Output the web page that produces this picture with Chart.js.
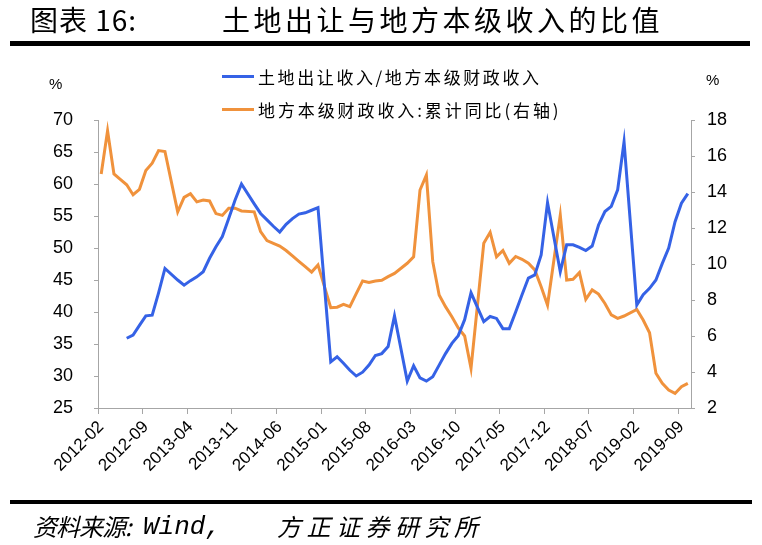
<!DOCTYPE html>
<html>
<head>
<meta charset="utf-8">
<script src="https://cdn.jsdelivr.net/npm/chart.js@4/dist/chart.umd.min.js"></script>
<style>
  html,body{margin:0;padding:0;background:#fff;}
  #wrap{position:relative;width:762px;height:545px;overflow:hidden;background:#fff;}
  #c{position:absolute;left:0;top:0;}
  .txt{position:absolute;white-space:nowrap;color:#000;font-family:"Noto Sans CJK SC","Noto Sans",sans-serif;line-height:1;}
  .rule{position:absolute;background:#000;}
  .lg{position:absolute;height:3px;}
</style>
</head>
<body>
<div id="wrap">
  <canvas id="c" width="762" height="545"></canvas>
  <div class="txt" style="left:30px;top:5px;font-size:28px;letter-spacing:1px;">图表 16:</div>
  <div class="txt" style="left:222px;top:5px;font-size:28px;letter-spacing:3.5px;">土地出让与地方本级收入的比值</div>
  <div class="rule" style="left:10px;top:41px;width:740px;height:5px;"></div>

  <div class="lg" style="left:222px;top:75px;width:32px;background:#3562E6;"></div>
  <div class="txt" style="left:258px;top:68px;font-size:17px;letter-spacing:2.6px;">土地出让收入/地方本级财政收入</div>
  <div class="lg" style="left:222px;top:108px;width:32px;background:#F0923C;"></div>
  <div class="txt" style="left:258px;top:101px;font-size:17px;letter-spacing:2.9px;">地方本级财政收入:累计同比(右轴)</div>

  <div class="txt" style="left:49px;top:76px;font-size:15px;font-family:'Liberation Sans',sans-serif;">%</div>
  <div class="txt" style="left:706px;top:72px;font-size:15px;font-family:'Liberation Sans',sans-serif;">%</div>

  <div class="rule" style="left:10px;top:500px;width:742px;height:4px;"></div>
  <div class="txt" style="left:33px;top:514px;font-size:24px;font-style:italic;letter-spacing:-1px;">资料来源:</div>
  <div class="txt" style="left:143px;top:514px;font-size:26px;font-style:italic;font-family:'Liberation Mono',monospace;">Wind,</div>
  <div class="txt" style="left:277px;top:514px;font-size:24px;font-style:italic;letter-spacing:5.5px;">方正证券研究所</div>
</div>
<script>
// ---- data ----
const months = [
  "2012-02","2012-03","2012-04","2012-05","2012-06","2012-07","2012-08","2012-09","2012-10","2012-11","2012-12",
  "2013-01","2013-02","2013-03","2013-04","2013-05","2013-06","2013-07","2013-08","2013-09","2013-10","2013-11","2013-12",
  "2014-01","2014-02","2014-03","2014-04","2014-05","2014-06","2014-07","2014-08","2014-09","2014-10","2014-11","2014-12",
  "2015-01","2015-02","2015-03","2015-04","2015-05","2015-06","2015-07","2015-08","2015-09","2015-10","2015-11","2015-12",
  "2016-01","2016-02","2016-03","2016-04","2016-05","2016-06","2016-07","2016-08","2016-09","2016-10","2016-11","2016-12",
  "2017-01","2017-02","2017-03","2017-04","2017-05","2017-06","2017-07","2017-08","2017-09","2017-10","2017-11","2017-12",
  "2018-01","2018-02","2018-03","2018-04","2018-05","2018-06","2018-07","2018-08","2018-09","2018-10","2018-11","2018-12",
  "2019-01","2019-02","2019-03","2019-04","2019-05","2019-06","2019-07","2019-08","2019-09","2019-10"
];
const landRatio = [
  null,null,null,null,35.9,36.4,37.9,39.4,39.5,43.0,46.8,
  null,45.0,44.2,44.9,45.5,46.3,48.4,50.2,51.8,54.6,57.5,60.0,
  null,56.9,55.4,54.4,53.4,52.5,53.7,54.6,55.3,55.5,55.9,56.3,
  null,32.2,33.0,32.0,30.9,30.0,30.6,31.7,33.2,33.5,34.6,39.4,
  null,29.2,31.6,29.7,29.2,29.9,31.7,33.5,35.1,36.3,38.8,43.0,
  null,38.5,39.3,39.0,37.4,37.4,40.0,42.7,45.3,45.8,48.9,57.1,
  null,46.3,50.5,50.5,50.1,49.6,50.3,53.6,55.7,56.5,59.1,66.6,
  null,41.1,42.7,43.7,45.0,47.6,50.0,54.1,57.0,58.5
];
const localRevYoY = [
  15.0,17.4,15.0,14.7,14.4,13.85,14.15,15.2,15.6,16.3,16.25,
  null,12.9,13.7,13.9,13.45,13.55,13.5,12.8,12.7,13.1,13.1,12.95,
  null,12.9,11.8,11.3,11.15,11.0,10.75,10.45,10.15,9.85,9.55,9.95,
  null,7.57,7.6,7.76,7.63,8.35,9.06,8.98,9.06,9.1,9.3,9.48,
  null,10.04,10.4,14.11,14.94,10.13,8.28,7.63,7.07,6.45,6.0,4.2,
  null,11.15,11.76,10.4,10.75,10.04,10.42,10.26,10.04,9.67,8.74,7.72,
  null,12.72,9.11,9.15,9.52,8.04,8.56,8.33,7.81,7.17,6.98,7.11,
  null,7.48,6.89,6.18,3.93,3.37,3.0,2.81,3.18,3.37
];
const seriesNames = ["土地出让收入/地方本级财政收入","地方本级财政收入:累计同比(右轴)"];
const leftTicks = {min:25, max:70, step:5};
const rightTicks = {min:2, max:18, step:2};
const labelEvery = 7;

// ---- chart ----
const axisGray = '#A6A6A6';
const tickFont = {family:"'Liberation Sans',Arial,sans-serif", size:18};
const PAD = {left:20, right:20, top:120, bottom:0};
const AREA = {left:98, right:691, bottom:408};
const shown = (i) => typeof i === 'number' && i % labelEvery === 0;

new Chart(document.getElementById('c'), {
  type:'line',
  data:{
    labels: months,
    datasets:[
      {label:seriesNames[0], data:landRatio, yAxisID:'y', borderColor:'#3562E6', backgroundColor:'#3562E6',
       borderWidth:3, pointRadius:0, tension:0, spanGaps:true},
      {label:seriesNames[1], data:localRevYoY, yAxisID:'y1', borderColor:'#F0923C', backgroundColor:'#F0923C',
       borderWidth:3, pointRadius:0, tension:0, spanGaps:true}
    ]
  },
  options:{
    responsive:false, animation:false, devicePixelRatio:1,
    layout:{padding:PAD},
    plugins:{legend:{display:false}, tooltip:{enabled:false}, title:{display:false}},
    scales:{
      x:{
        type:'category', offset:true,
        grid:{offset:true, drawOnChartArea:false, drawTicks:true, tickLength:6,
              tickColor:(ctx)=> shown(ctx.index) ? axisGray : 'rgba(0,0,0,0)', color:axisGray},
        border:{color:axisGray, width:1},
        ticks:{autoSkip:false, maxRotation:45, minRotation:45, padding:3, color:'#000',
          font:{family:tickFont.family, size:17},
          callback:function(v,i){ return shown(i) ? months[i] : ''; }},
        afterFit:function(s){ s.height = 545 - PAD.bottom - AREA.bottom; }
      },
      y:{
        position:'left', min:leftTicks.min, max:leftTicks.max,
        grid:{drawOnChartArea:false, drawTicks:true, tickLength:4, tickColor:axisGray, color:axisGray},
        border:{color:axisGray, width:1},
        ticks:{stepSize:leftTicks.step, padding:21, color:'#000', font:tickFont},
        afterFit:function(s){ s.width = AREA.left - PAD.left; }
      },
      y1:{
        position:'right', min:rightTicks.min, max:rightTicks.max,
        grid:{drawOnChartArea:false, drawTicks:true, tickLength:4, tickColor:axisGray, color:axisGray},
        border:{color:axisGray, width:1},
        ticks:{stepSize:rightTicks.step, padding:12, color:'#000', font:tickFont},
        afterFit:function(s){ s.width = 762 - PAD.right - AREA.right; }
      }
    }
  }
});
</script>
</body>
</html>
